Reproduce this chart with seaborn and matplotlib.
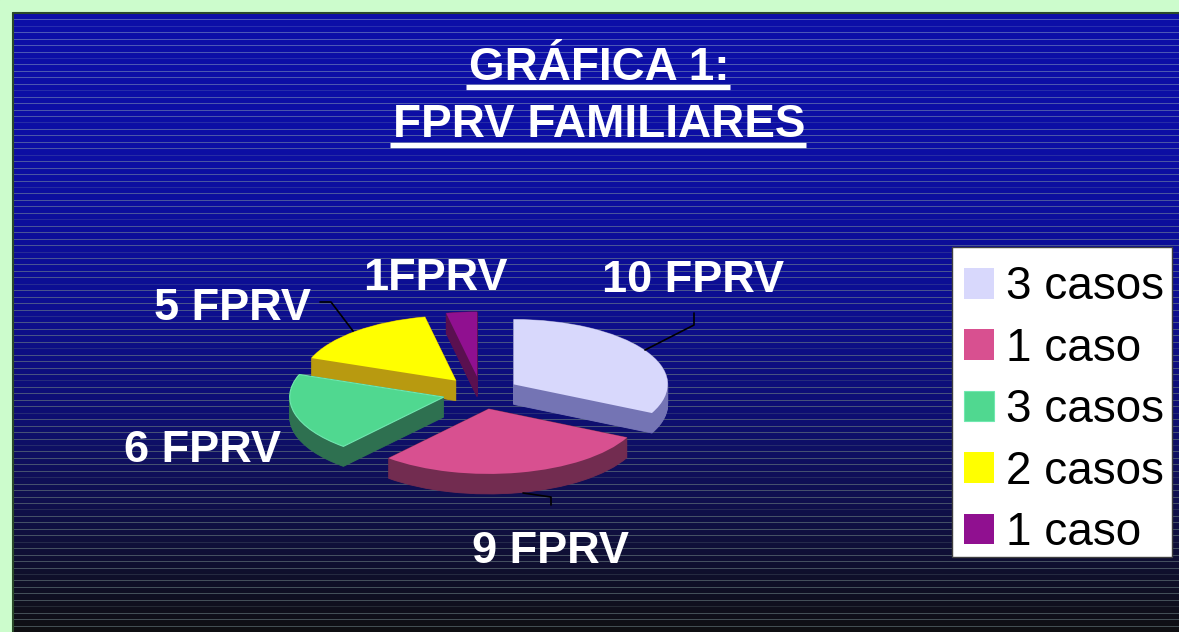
import numpy as np
import matplotlib
matplotlib.use("Agg")
import matplotlib.pyplot as plt
import seaborn as sns
from matplotlib.lines import Line2D
from matplotlib.patches import Rectangle

# data
fprv_labels = ["10 FPRV", "9 FPRV", "6 FPRV", "5 FPRV", "1FPRV"]
fprv_values = [10, 9, 6, 5, 1]
legend_labels = ["3 casos", "1 caso", "3 casos", "2 casos", "1 caso"]
top_colors = ["#d8d8fc", "#d85090", "#50d890", "#ffff00", "#901090"]
side_colors = ["#7474b4", "#722c50", "#2e7050", "#b89a10", "#5a1050"]
title_lines = ["GRÁFICA 1:", "FPRV FAMILIARES"]

sns.set_theme(style="white")
plt.rcParams["font.family"] = ["Liberation Sans", "DejaVu Sans"]

W, H = 1179, 632
fig = plt.figure(figsize=(W / 100, H / 100), dpi=100)


def px(x, y):
    return (x / W, 1 - y / H)


# background: blue to black gradient with thin horizontal stripes
ys = np.arange(H)
anchor_y = [0, 150, 300, 420, 500, 560, 632]
anchor_c = np.array([(12, 14, 168), (12, 14, 164), (13, 14, 146), (14, 15, 112),
                     (16, 16, 78), (15, 15, 50), (16, 16, 18)]) / 255
base = np.stack([np.interp(ys, anchor_y, anchor_c[:, i]) for i in range(3)], axis=1)
line_top = np.array([80, 92, 190]) / 255
line_bot = np.array([70, 82, 86]) / 255
t = (ys / H)[:, None]
line_col = line_top * (1 - t) + line_bot * t
img = np.repeat(base[:, None, :], W, axis=1)
for k, y in enumerate(np.arange(19.3, H, 6.45)):
    r = int(round(y))
    if r < H:
        a = 0.4 if k % 5 == 1 else 0.95
        img[r] = base[r] * (1 - a) + line_col[r] * a
bg = fig.add_axes([0, 0, 1, 1])
bg.imshow(img, aspect="auto", extent=(0, W, H, 0), interpolation="nearest")
bg.set_xlim(0, W)
bg.set_ylim(H, 0)
bg.axis("off")

# light green frame (top and left)
bg.add_patch(Rectangle((0, 0), W, 12, color="#ccfccc", zorder=3))
bg.add_patch(Rectangle((0, 0), 12, H, color="#ccfccc", zorder=3))
bg.plot([12.5, 12.5], [12.5, H], color="#2a4a2a", lw=1.5, zorder=4)
bg.plot([12.5, W], [12.5, 12.5], color="#2a4a2a", lw=1.5, zorder=4)

# legend box
bg.add_patch(Rectangle((952, 247), 220, 310, facecolor="white", edgecolor="#404040",
                       lw=1.0, zorder=5))

# pie axes, squashed to fake perspective
cx, cy, rx, ry = 481, 393, 154, 65
half_w, half_h = 300, 150
ax = fig.add_axes([(cx - half_w) / W, (H - cy - half_h) / H, 2 * half_w / W, 2 * half_h / H])
explode = [0.25] * len(fprv_values)
depth = 20 / ry
for dy in np.linspace(-depth, 0, 30):
    ax.pie(fprv_values, colors=side_colors, explode=explode, startangle=90,
           counterclock=False, center=(0, dy), radius=1,
           wedgeprops=dict(linewidth=0.6))
    for w, c in zip(ax.patches[-len(fprv_values):], side_colors):
        w.set_edgecolor(c)
wedges, _ = ax.pie(fprv_values, colors=top_colors, explode=explode, startangle=90,
                   counterclock=False, center=(0, 0), radius=1,
                   wedgeprops=dict(linewidth=0))
wedges[2].set_edgecolor("#70e8b0")
wedges[2].set_linewidth(0.8)
ax.set_aspect("auto")
ax.set_xlim(-half_w / rx, half_w / rx)
ax.set_ylim(-half_h / ry, half_h / ry)
ax.axis("off")

# slice labels (baseline positions)
label_pos = [(693, 292), (551, 563), (202, 462), (233, 320), (435, 290)]
for lab, (x, y) in zip(fprv_labels, label_pos):
    fig.text(*px(x, y), lab, ha="center", va="baseline", color="white",
             fontsize=32.5, fontweight="bold")

# leader lines
leaders = [
    [(645, 350), (694, 325), (694, 313)],
    [(523, 493), (551, 497), (551, 505)],
    [(353, 331), (331, 302), (320, 302)],
]
for pts in leaders:
    xs_, ys_ = zip(*[px(*p) for p in pts])
    fig.add_artist(Line2D(xs_, ys_, color="black", lw=1.2))

# title, underlined
renderer = fig.canvas.get_renderer()
for line, y, uy in zip(title_lines, [80, 137], [87, 145]):
    txt = fig.text(*px(599, y), line, ha="center", va="baseline", color="white",
                   fontsize=33, fontweight="bold")
    bb = txt.get_window_extent(renderer)
    fig.add_artist(Line2D([bb.x0 / W - 0.002, bb.x1 / W + 0.001], [px(0, uy)[1]] * 2,
                          color="white", lw=3.8, solid_capstyle="butt"))

# legend (frame drawn above)
leg = fig.legend(wedges, legend_labels, loc="upper left", bbox_to_anchor=px(946, 247),
                 fontsize=33, frameon=False, handlelength=0.65,
                 handleheight=0.65, handletextpad=0.25, labelspacing=0.38,
                 borderpad=0.4, borderaxespad=0)
for txt in leg.get_texts():
    txt.set_color("black")

fig.savefig("out.png", dpi=100)
